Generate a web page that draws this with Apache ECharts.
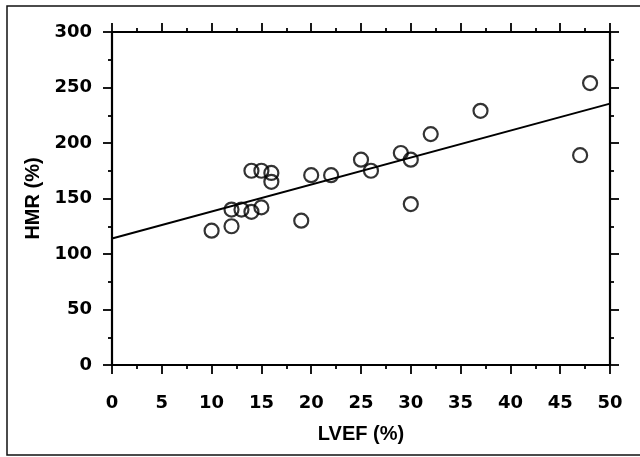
<!DOCTYPE html>
<html>
<head>
<meta charset="utf-8">
<script src="https://cdn.jsdelivr.net/npm/echarts@6/dist/echarts.min.js"></script>
<style>
html,body{margin:0;padding:0;background:#fff;}
#chart{width:640px;height:457px;}
</style>
</head>
<body>
<div id="chart"></div>
<script>
// Data
var lvef = [10, 12, 12, 13, 14, 15, 14, 15, 16, 16, 19, 20, 22, 25, 26, 29, 30, 30, 32, 37, 47, 48];
var hmr  = [121, 125, 140, 140, 138, 142, 175, 175, 173, 165, 130, 171, 171, 185, 175, 191, 185, 145, 208, 229, 189, 254];
var fitX = [0, 50];
var fitY = [114, 235.5];
var xTicks = [0, 5, 10, 15, 20, 25, 30, 35, 40, 45, 50];
var yTicks = [0, 50, 100, 150, 200, 250, 300];

var points = lvef.map(function (x, i) { return [x, hmr[i]]; });
var fitLine = fitX.map(function (x, i) { return [x, fitY[i]]; });

var chart = echarts.init(document.getElementById('chart'), null, {renderer: 'canvas'});

function axisCommon(pos, showLabel, isX) {
  var ticks = isX ? xTicks : yTicks;
  return {
    type: 'value',
    position: pos,
    min: ticks[0],
    max: ticks[ticks.length - 1],
    interval: ticks[1] - ticks[0],
    axisLine: {show: true, onZero: false, lineStyle: {color: '#000', width: 2.2}},
    axisTick: {show: true, inside: false, length: 9, lineStyle: {color: '#000', width: 1.8}},
    minorTick: {show: true, splitNumber: 2, length: 4, lineStyle: {color: '#000', width: 1.8}},
    splitLine: {show: false},
    minorSplitLine: {show: false},
    axisLabel: {
      show: showLabel,
      color: '#000',
      fontFamily: 'DejaVu Sans',
      fontWeight: 'bold',
      fontSize: 18,
      margin: isX ? 29 : 20
    }
  };
}

var xBottom = axisCommon('bottom', true, true);
xBottom.name = 'LVEF (%)';
xBottom.nameLocation = 'middle';
xBottom.nameGap = 59;
xBottom.nameTextStyle = {color: '#000', fontFamily: 'Liberation Sans', fontWeight: 'bold', fontSize: 20};
var xTop = axisCommon('top', false, true);

var yLeft = axisCommon('left', true, false);
yLeft.name = 'HMR (%)';
yLeft.nameLocation = 'middle';
yLeft.nameGap = 65;
yLeft.nameTextStyle = {color: '#000', fontFamily: 'Liberation Sans', fontWeight: 'bold', fontSize: 20};
var yRight = axisCommon('right', false, false);

chart.setOption({
  animation: false,
  backgroundColor: '#fff',
  grid: {left: 112, right: 30, top: 32, bottom: 92, containLabel: false},
  xAxis: [xBottom, xTop],
  yAxis: [yLeft, yRight],
  graphic: [{
    type: 'rect',
    shape: {x: 7, y: 6, width: 640, height: 449},
    style: {fill: 'none', stroke: '#111', lineWidth: 1.5},
    silent: true
  }],
  series: [
    {
      type: 'line',
      xAxisIndex: 0,
      yAxisIndex: 0,
      data: fitLine,
      showSymbol: false,
      symbol: 'none',
      lineStyle: {color: '#000', width: 2},
      z: 2
    },
    {
      type: 'scatter',
      xAxisIndex: 0,
      yAxisIndex: 0,
      data: points,
      symbol: 'circle',
      symbolSize: 14,
      itemStyle: {color: 'rgba(255,255,255,0)', borderColor: '#000', borderWidth: 2.2},
      z: 3
    }
  ]
});
</script>
</body>
</html>
